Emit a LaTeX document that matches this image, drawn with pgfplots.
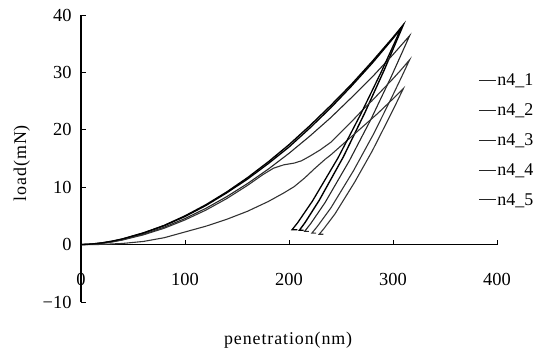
\documentclass[border=0pt]{standalone}
\usepackage{pgfplots}
\pgfplotsset{compat=1.18}
\usepackage{fontspec}
\setmainfont{Liberation Serif}
\newfontfamily\labfont[LetterSpace=5]{Liberation Serif}
\begin{document}
\begin{tikzpicture}
\begin{axis}[
  scale only axis, width=416bp, height=287bp,
  xmin=0, xmax=400, ymin=-10, ymax=40,
  axis lines=middle, axis line style={-, line width=1.1pt, black},
  hide obscured x ticks=false, hide obscured y ticks=false,
  xtick={0,100,200,300,400}, ytick={-10,0,10,20,30,40},
  yticklabels={{\char"2212 10},0,10,20,30,40},
  tick align=inside, major tick length=5bp, tick style={black, line width=0.9pt},
  /pgf/number format/assume math mode=true,
  tick label style={font=\fontsize{18.5}{21}\selectfont},
  xticklabel style={yshift=-25bp},
  yticklabel style={xshift=-6bp},
  xlabel={\labfont penetration(nm)}, ylabel={\labfont load(mN)},
  label style={font=\fontsize{18}{21}\selectfont},
  xlabel style={at={(axis description cs:0.498,-0.132)}, anchor=center},
  ylabel style={at={(axis description cs:-0.142,0.484)}, anchor=center, rotate=90},
  clip=false,
  legend style={at={(axis cs:379,30.3)}, anchor=north west, draw=none, fill=none,
    font=\fontsize{18}{21}\selectfont, row sep=14.5bp, nodes={inner sep=1bp}},
  legend cell align=left,
  legend image code/.code={\draw[#1, line width=1.1pt, black!85] (0bp,0bp) -- (17bp,0bp);},
]
\coordinate (ll) at (axis cs:0,-10);
\addplot[black, line width=1.4pt] coordinates {
(0,0) (10,0.08) (20,0.28) (30,0.58) (40,0.96) (60,2.0) (80,3.34) (100,5.0) (120,6.93) (140,9.15) (160,11.64) (180,14.4) (200,17.4) (220,20.7) (240,24.2) (260,27.9) (280,31.9) (300,36.1) (310,38.3)
(301.1,34.5) (292,30.6) (273,23.0) (252.3,15.3) (229,7.7) (215.4,3.83) (210,2.5) (214,2.5)};
\addlegendentry{n4\_1}
\addplot[black!85, line width=1.1pt] coordinates {
(0,0) (10,0.07) (20,0.25) (30,0.5) (40,0.86) (60,1.8) (80,3.03) (100,4.54) (120,6.31) (140,8.34) (160,10.62) (180,13.14) (200,15.9) (220,18.9) (240,22.1) (260,25.6) (280,29.2) (300,33.1) (316,36.4)
(307.1,32.8) (297.9,29.1) (278.7,21.8) (258,14.6) (234.6,7.3) (220.8,3.64) (215,2.3) (219,2.3)};
\addlegendentry{n4\_2}
\addplot[black!80, line width=1.1pt] coordinates {
(0,0) (10,0.06) (20,0.22) (30,0.46) (40,0.8) (60,1.7) (80,2.85) (100,4.3) (120,6.0) (140,8.0) (160,10.3) (175,12.2) (185,13.3) (195,13.9) (205,14.2) (212,14.6) (220,15.4) (230,16.5) (240,17.8) (250,19.6) (260,21.4) (270,23.3) (280,25.1) (290,27.0) (300,28.9) (308,30.5) (316,32.2)
(307.7,29.0) (299.2,25.8) (281.4,19.3) (262.1,12.9) (240.3,6.4) (227.5,3.22) (222,2.0) (226,2.0)};
\addlegendentry{n4\_3}
\addplot[black!80, line width=1.1pt] coordinates {
(0,0) (20,0.03) (40,0.2) (60,0.55) (80,1.2) (100,2.2) (120,3.2) (140,4.4) (160,5.8) (180,7.5) (195,9.0) (205,10.1) (215,11.6) (225,13.3) (235,14.9) (240,15.6) (255,18.0) (270,20.4) (285,22.8) (300,25.4) (310,27.2)
(302.8,24.5) (295.4,21.8) (280,16.3) (263.2,10.9) (244.4,5.4) (233.3,2.72) (229,1.8) (233,1.8)};
\addlegendentry{n4\_4}
\addplot[black, line width=1.3pt] coordinates {
(0,0) (10,0.1) (20,0.3) (30,0.6) (40,1.0) (60,2.05) (80,3.3) (100,4.9) (120,6.8) (140,9.0) (160,11.4) (180,14.1) (200,17.0) (220,20.3) (240,23.8) (260,27.6) (280,31.6) (300,35.9) (308,37.8)
(298.6,34.0) (289,30.2) (268.9,22.7) (247.1,15.1) (222.6,7.6) (208.2,3.78) (203,2.6) (208,2.6)};
\addlegendentry{n4\_5}
\end{axis}
\pgfresetboundingbox
\path[use as bounding box] ([shift={(-81bp,-49bp)}]ll) rectangle ++(544bp,351bp);
\end{tikzpicture}
\end{document}
